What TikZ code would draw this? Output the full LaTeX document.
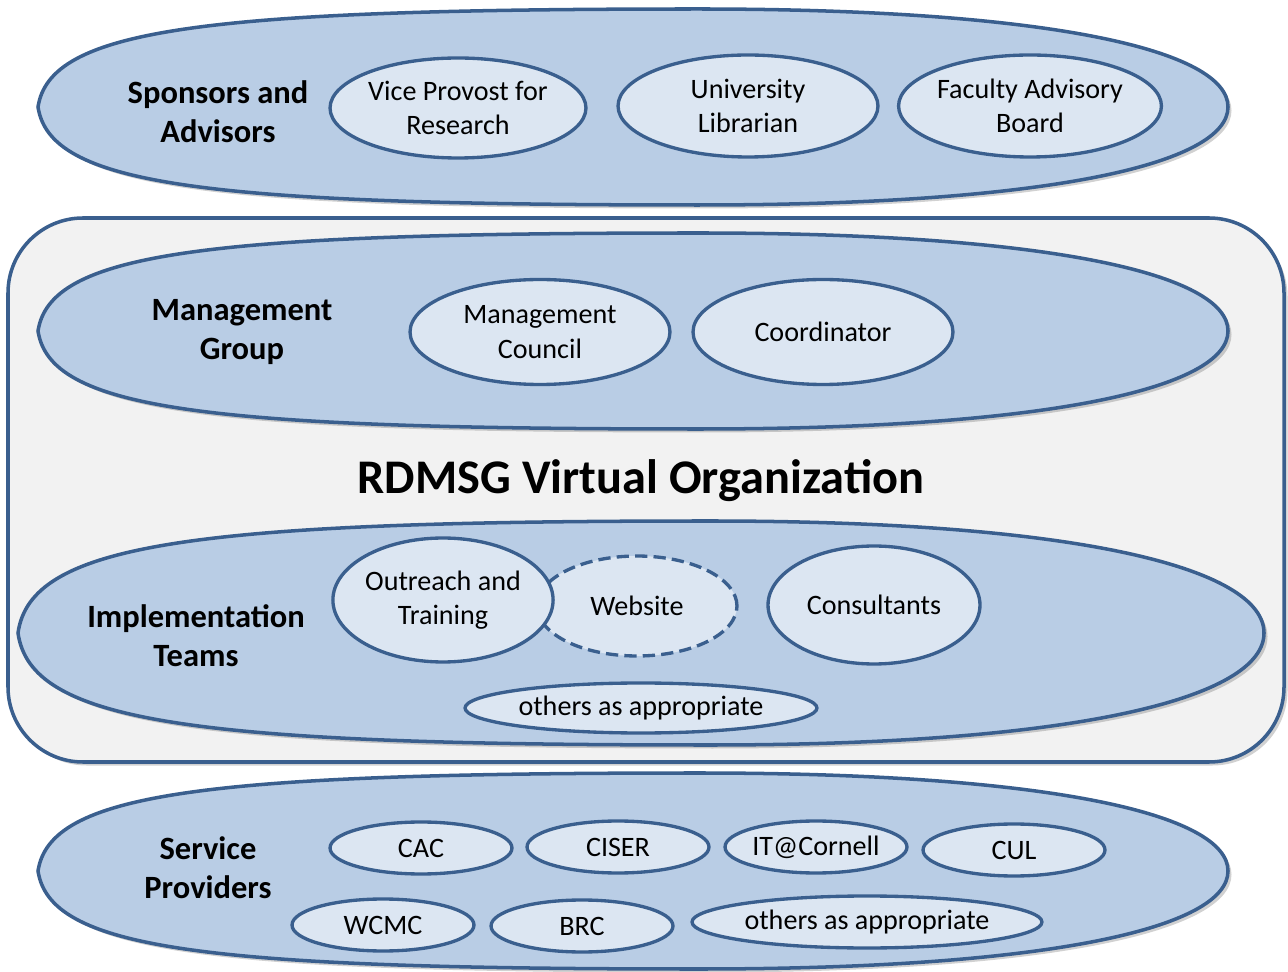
\documentclass[tikz,border=0pt]{standalone}
\usepackage{fontspec}
\setmainfont{Carlito}
\usetikzlibrary{shapes.geometric}

\definecolor{lensfill}{HTML}{B9CDE5}
\definecolor{itemfill}{HTML}{DCE6F2}
\definecolor{rimblue}{HTML}{3A5F8E}
\definecolor{panelgray}{HTML}{F2F2F2}

\tikzset{
  member/.style={ellipse, draw=rimblue, line width=1.9pt, fill=itemfill,
    inner sep=0pt, align=center, font=\fontsize{16}{19.5}\selectfont},
  grouplabel/.style={align=center, font=\fontsize{18.5}{22}\selectfont\bfseries},
  lensrim/.style={draw=rimblue, line width=2pt, fill=lensfill},
  lensshade/.style={black, opacity=0.18, xshift=0.07cm, yshift=-0.07cm},
}

% group lens: centre x, centre y, half width, half height (in px units)
\newcommand{\lensdraw}[4]{%
  \fill[lensshade] (#1-#3,#2) .. controls (#1-0.98*#3,#2-0.79*#4) and (#1-0.73*#3,#2-#4) .. (#1+0.11*#3,#2-#4)
    .. controls (#1+0.70*#3,#2-#4) and (#1+#3,#2-0.58*#4) .. (#1+#3,#2)
    .. controls (#1+#3,#2+0.58*#4) and (#1+0.70*#3,#2+#4) .. (#1+0.11*#3,#2+#4)
    .. controls (#1-0.73*#3,#2+#4) and (#1-0.98*#3,#2+0.79*#4) .. cycle;
  \draw[lensrim] (#1-#3,#2) .. controls (#1-0.98*#3,#2-0.79*#4) and (#1-0.73*#3,#2-#4) .. (#1+0.11*#3,#2-#4)
    .. controls (#1+0.70*#3,#2-#4) and (#1+#3,#2-0.58*#4) .. (#1+#3,#2)
    .. controls (#1+#3,#2+0.58*#4) and (#1+0.70*#3,#2+#4) .. (#1+0.11*#3,#2+#4)
    .. controls (#1-0.73*#3,#2+#4) and (#1-0.98*#3,#2+0.79*#4) .. cycle;}

\begin{document}
\begin{tikzpicture}[x=0.02cm, y=-0.02cm]
	\useasboundingbox (0,0) rectangle (1288,972);
	% sponsors
	\lensdraw{633}{107}{595}{98}
	\node[grouplabel] (sponsors) at (218,112) {Sponsors and\\Advisors};
	\node[member, minimum width=5.12cm, minimum height=2.0cm] (vpr) at (458,108) {Vice Provost for\\Research};
	\node[member, minimum width=5.2cm, minimum height=2.04cm] (librarian) at (748,106) {University\\Librarian};
	\node[member, minimum width=5.2cm, minimum height=2.04cm] (facboard) at (1030,106) {Faculty Advisory\\Board};
	% virtual organization panel
	\fill[lensshade, rounded corners=1.5cm] (8,218) rectangle (1284,762);
	\draw[draw=rimblue, line width=2pt, fill=panelgray, rounded corners=1.5cm] (8,218) rectangle (1284,762);
	\lensdraw{633}{331}{595}{98}
	\node[grouplabel] (mgmt) at (242,332) {Management\\Group};
	\node[member, minimum width=5.2cm, minimum height=2.1cm] (council) at (540,332) {Management\\Council};
	\node[member, minimum width=5.2cm, minimum height=2.1cm] (coordinator) at (823,332) {Coordinator};
	\node[font=\fontsize{27.5}{33}\selectfont\bfseries] (title) at (641,481) {RDMSG Virtual Organization};
	\lensdraw{641}{633}{623}{112}
	\node[grouplabel] (impl) at (196,636) {Implementation\\Teams};
	\node[member, dashed, dash pattern=on 7pt off 3.5pt, minimum width=4.0cm, minimum height=2.0cm] (website) at (637,606) {Website};
	\node[member, minimum width=4.24cm, minimum height=2.48cm] (outreach) at (443,600) {Outreach and\\Training};
	\node[member, minimum width=4.24cm, minimum height=2.36cm] (consultants) at (874,605) {Consultants};
	\node[member, minimum width=7.04cm, minimum height=1.0cm] (teamothers) at (641,708) {others as appropriate};
	% service providers
	\lensdraw{633}{871}{595}{98}
	\node[grouplabel] (providers) at (208,868) {Service\\Providers};
	\node[member, minimum width=3.64cm, minimum height=1.04cm] (cac) at (421,848) {CAC};
	\node[member, minimum width=3.64cm, minimum height=1.04cm] (ciser) at (618,847) {CISER};
	\node[member, minimum width=3.64cm, minimum height=1.04cm] (itcornell) at (816,847) {IT@Cornell};
	\node[member, minimum width=3.64cm, minimum height=1.04cm] (cul) at (1014,850) {CUL};
	\node[member, minimum width=3.64cm, minimum height=1.04cm] (wcmc) at (383,925) {WCMC};
	\node[member, minimum width=3.64cm, minimum height=1.04cm] (brc) at (582,926) {BRC};
	\node[member, minimum width=7.0cm, minimum height=1.04cm] (provothers) at (867,922) {others as appropriate};
\end{tikzpicture}
\end{document}
